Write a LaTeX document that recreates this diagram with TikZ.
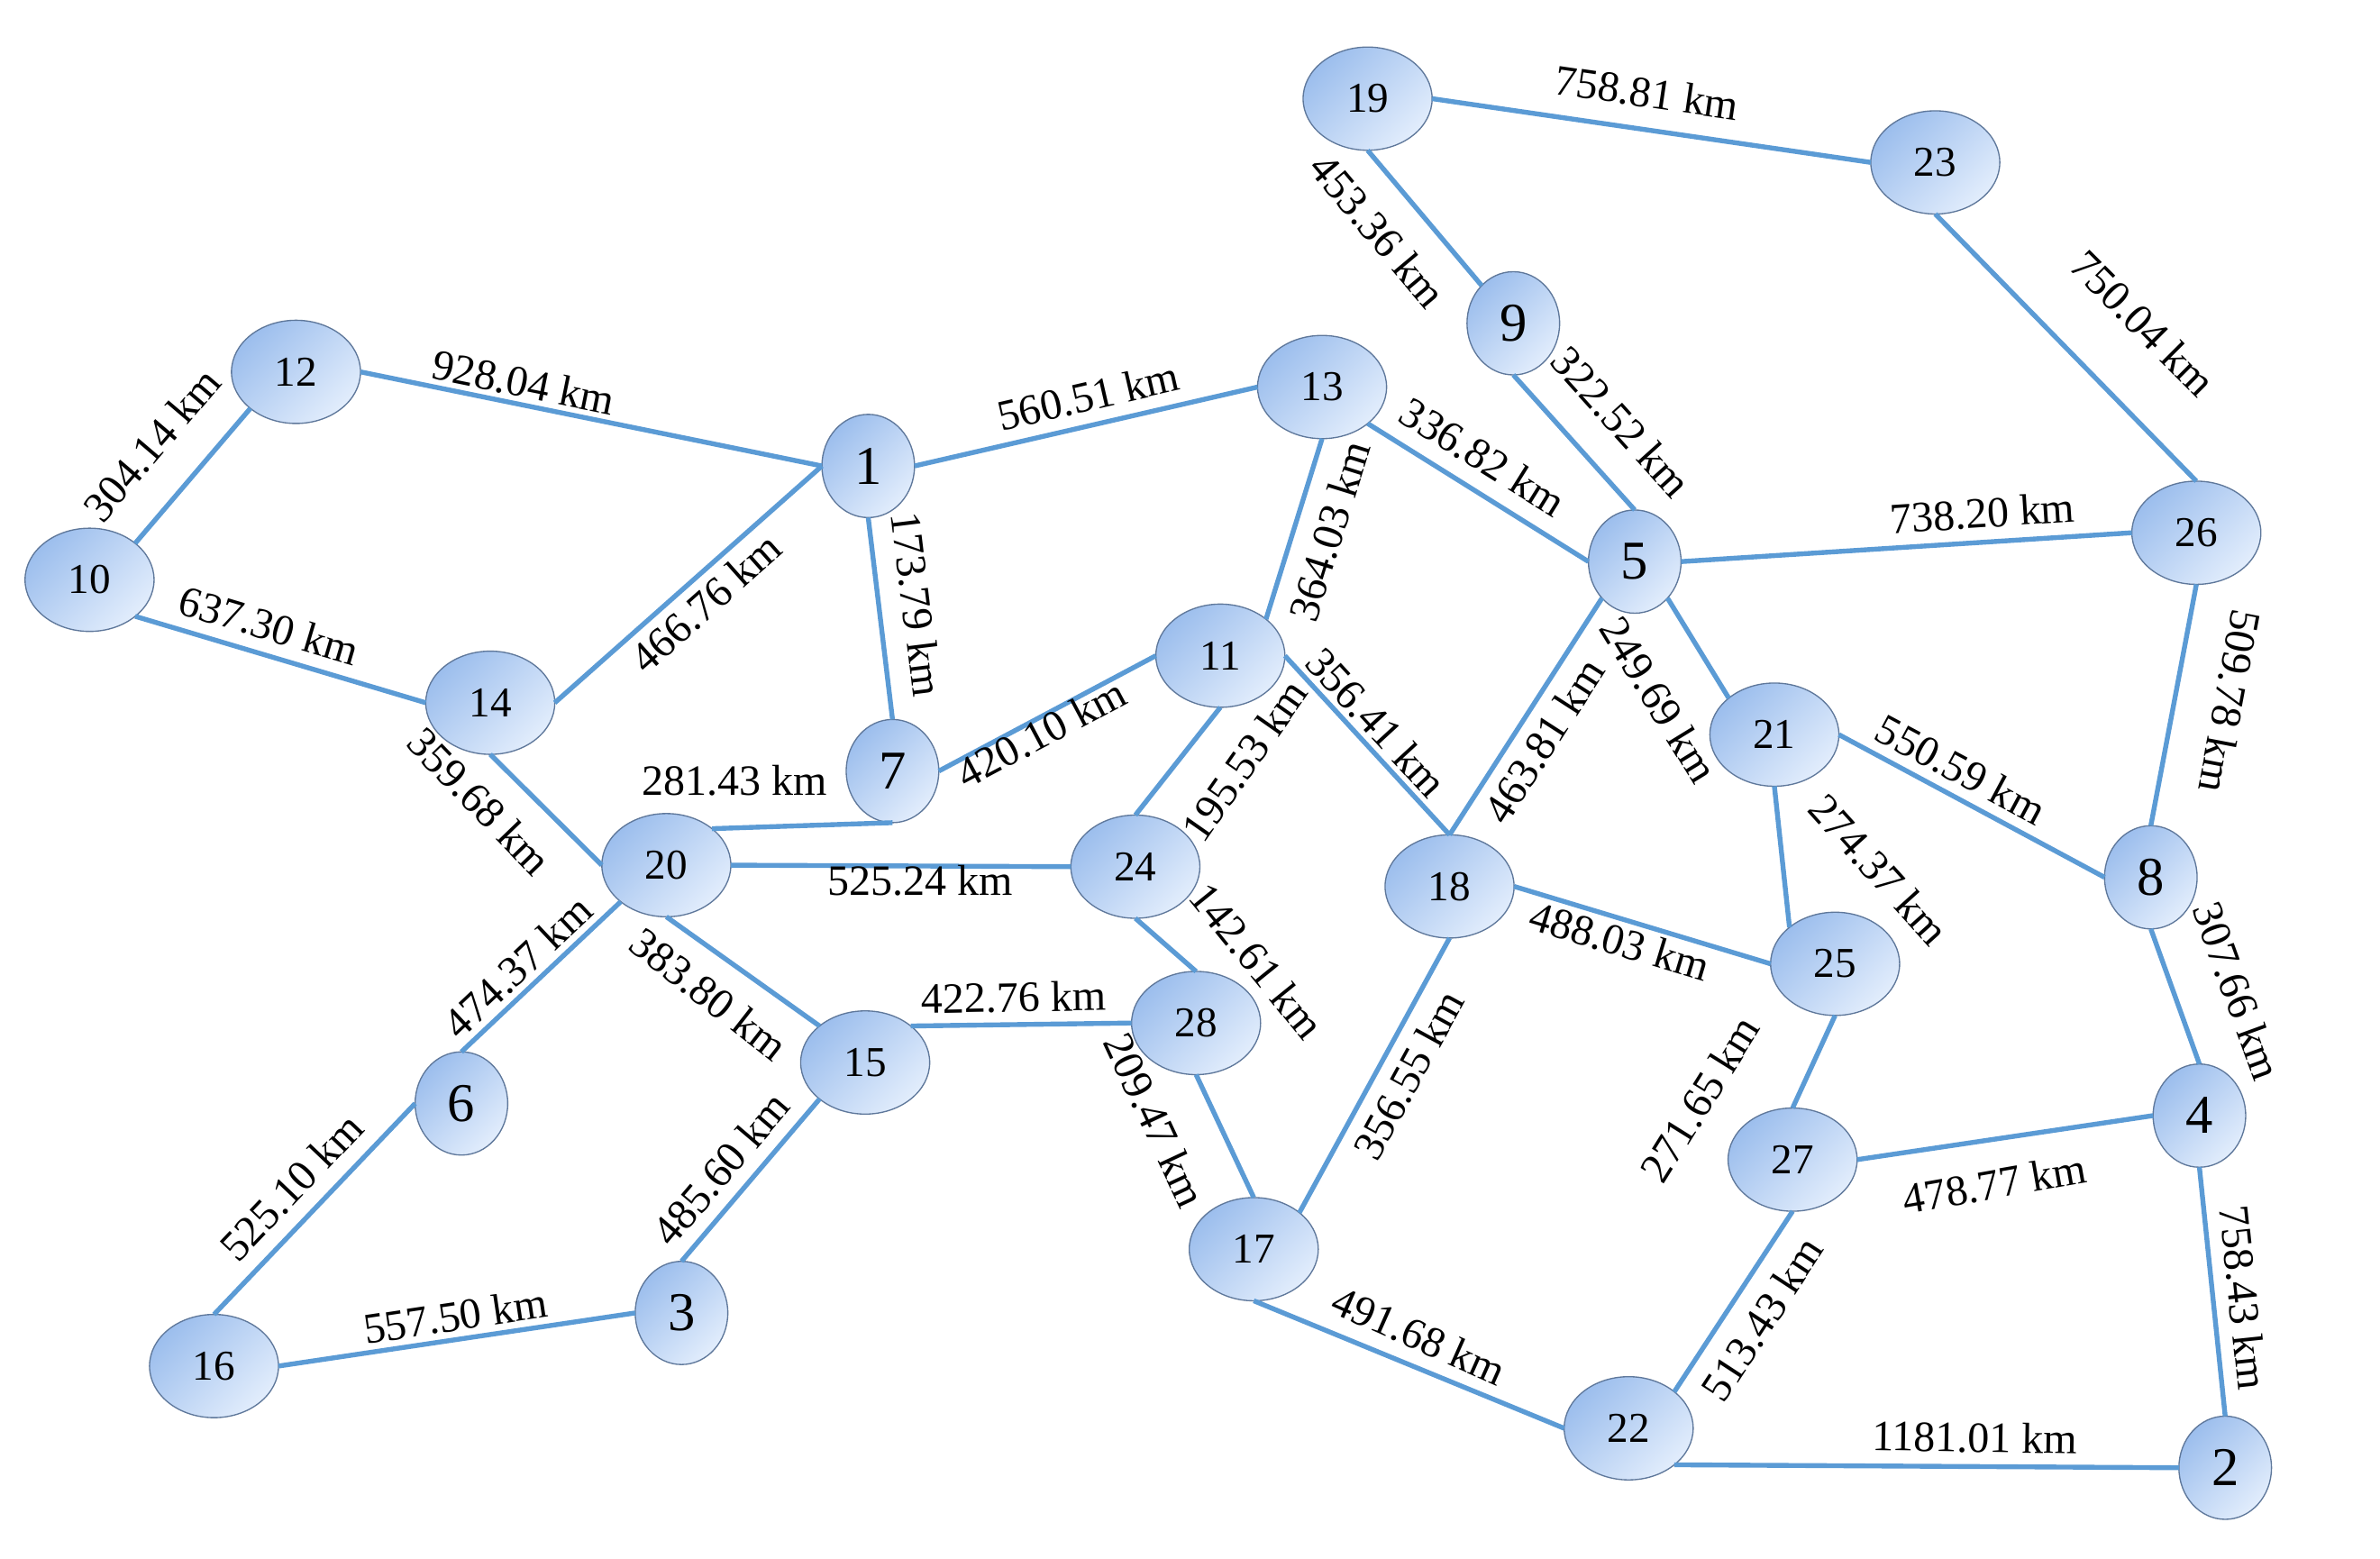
\documentclass[tikz,border=0pt]{standalone}
\usepackage{fontspec}
\setmainfont{Liberation Serif}
\usetikzlibrary{shapes.geometric}
\definecolor{edgeblue}{RGB}{91,155,213}
\definecolor{ndborder}{RGB}{95,120,155}
\definecolor{ndA}{RGB}{156,190,237}
\definecolor{ndB}{RGB}{226,237,252}
\tikzset{
  nd/.style={ellipse, draw=ndborder, line width=0.8pt, top color=ndA, bottom color=ndB, shading angle=45,
    inner sep=0pt, outer sep=0pt, minimum width=85pt, minimum height=68pt, font=\fontsize{28}{28}\selectfont},
  nds/.style={nd, minimum width=61pt, font=\fontsize{36}{36}\selectfont},
  ln/.style={draw=edgeblue, line width=3.2pt},
  lab/.style={font=\fontsize{28.5}{29}\selectfont, inner sep=0pt}
}
\begin{document}
\begin{tikzpicture}[x=1pt,y=-1pt]
\useasboundingbox[fill=white] (0,0) rectangle (1568,1027);
% nodes
\node[nd]  (n19) at (901,65)   {19};
\node[nd]  (n23) at (1275,107) {23};
\node[nds] (n9)  at (997,213)  {9};
\node[nd]  (n12) at (195,245)  {12};
\node[nd]  (n13) at (871,255)  {13};
\node[nds] (n1)  at (572,307)  {1};
\node[nd]  (n10) at (59,382)   {10};
\node[nds] (n5)  at (1077,370) {5};
\node[nd]  (n26) at (1447,351) {26};
\node[nd]  (n14) at (323,463)  {14};
\node[nd]  (n11) at (804,432)  {11};
\node[nds] (n7)  at (588,508)  {7};
\node[nd]  (n21) at (1169,484) {21};
\node[nd]  (n20) at (439,570)  {20};
\node[nd]  (n24) at (748,571)  {24};
\node[nd]  (n18) at (955,584)  {18};
\node[nds] (n8)  at (1417,578) {8};
\node[nd]  (n25) at (1209,635) {25};
\node[nd]  (n28) at (788,674)  {28};
\node[nd]  (n15) at (570,700)  {15};
\node[nds] (n6)  at (304,727)  {6};
\node[nd]  (n27) at (1181,764) {27};
\node[nds] (n4)  at (1449,735) {4};
\node[nd]  (n17) at (826,823)  {17};
\node[nds] (n3)  at (449,865)  {3};
\node[nd]  (n16) at (141,900)  {16};
\node[nd]  (n22) at (1073,941) {22};
\node[nds] (n2)  at (1466,967) {2};
% edges
\draw[ln] (n19.east) -- (n23.west);
\draw[ln] (n19.south) -- (n9.130);
\draw[ln] (n23.south) -- (n26.north);
\draw[ln] (n9.south) -- (n5.north);
\draw[ln] (n12.east) -- (n1.west);
\draw[ln] (n10.north east) -- (n12.south west);
\draw[ln] (n1.east) -- (n13.west);
\draw[ln] (n13.south east) -- (n5.west);
\draw[ln] (n14.east) -- (n1.west);
\draw[ln] (n1.south) -- (n7.north);
\draw[ln] (n10.south east) -- (n14.west);
\draw[ln] (n13.south) -- (n11.north east);
\draw[ln] (n5.east) -- (n26.west);
\draw[ln] (n26.south) -- (n8.north);
\draw[ln] (n14.south) -- (n20.west);
\draw[ln] (n5.south west) -- (n18.north);
\draw[ln] (n5.south east) -- (n21.north west);
\draw[ln] (n7.east) -- (n11.west);
\draw[ln] (n20.north east) -- (n7.south);
\draw[ln] (n11.south) -- (n24.north);
\draw[ln] (n11.east) -- (n18.north);
\draw[ln] (n21.east) -- (n8.west);
\draw[ln] (n20.east) -- (n24.west);
\draw[ln] (n24.south) -- (n28.north);
\draw[ln] (n18.east) -- (n25.west);
\draw[ln] (n21.south) -- (n25.north west);
\draw[ln] (n20.south west) -- (n6.north);
\draw[ln] (n20.south) -- (n15.north west);
\draw[ln] (n15.north east) -- (n28.west);
\draw[ln] (n8.south) -- (n4.north);
\draw[ln] (n28.south) -- (n17.north);
\draw[ln] (n18.south) -- (n17.north east);
\draw[ln] (n25.south) -- (n27.north);
\draw[ln] (n15.south west) -- (n3.north);
\draw[ln] (n6.west) -- (n16.north);
\draw[ln] (n27.east) -- (n4.west);
\draw[ln] (n16.east) -- (n3.west);
\draw[ln] (n17.south) -- (n22.west);
\draw[ln] (n22.north east) -- (n27.south);
\draw[ln] (n4.south) -- (n2.north);
\draw[ln] (n22.south east) -- (n2.west);
% labels
\node[lab, rotate=-8.3]  (l1)  at (1085,61)  {758.81 km};
\node[lab, rotate=-50]   (l2)  at (908,152)  {453.36 km};
\node[lab, rotate=-45]   (l3)  at (1412,213) {750.04 km};
\node[lab, rotate=-48]   (l4)  at (1068,278) {322.52 km};
\node[lab, rotate=-11.5] (l5)  at (345,252)  {928.04 km};
\node[lab, rotate=49.5]  (l6)  at (100,293)  {304.14 km};
\node[lab, rotate=13]    (l7)  at (717,261)  {560.51 km};
\node[lab, rotate=-32]   (l8)  at (977,301)  {336.82 km};
\node[lab, rotate=41.6]  (l9)  at (465,397)  {466.76 km};
\node[lab, rotate=-83]   (l10) at (604,398)  {173.79 km};
\node[lab, rotate=-16.6] (l11) at (177,412)  {637.30 km};
\node[lab, rotate=72.7]  (l12) at (876,350)  {364.03 km};
\node[lab, rotate=3.7]   (l13) at (1306,338) {738.20 km};
\node[lab, rotate=-100.7](l14) at (1469,462) {509.78 km};
\node[lab, rotate=-46]   (l15) at (316,528)  {359.68 km};
\node[lab, rotate=57.2]  (l16) at (1017,488) {463.81 km};
\node[lab, rotate=-58.5] (l17) at (1093,461) {249.69 km};
\node[lab, rotate=28]    (l18) at (686,483)  {420.10 km};
\node[lab]               (l19) at (484,514)  {281.43 km};
\node[lab, rotate=55]    (l20) at (820,501)  {195.53 km};
\node[lab, rotate=-47.4] (l21) at (907,476)  {356.41 km};
\node[lab, rotate=-28.2] (l22) at (1292,507) {550.59 km};
\node[lab]               (l23) at (606,580)  {525.24 km};
\node[lab, rotate=-51]   (l24) at (828,633)  {142.61 km};
\node[lab, rotate=-16.8] (l25) at (1067,620) {488.03 km};
\node[lab, rotate=-48]   (l26) at (1238,573) {274.37 km};
\node[lab, rotate=43.3]  (l27) at (341,637)  {474.37 km};
\node[lab, rotate=-38]   (l28) at (467,655)  {383.80 km};
\node[lab, rotate=1]     (l29) at (668,657)  {422.76 km};
\node[lab, rotate=-70]   (l30) at (1474,653) {307.66 km};
\node[lab, rotate=-65]   (l31) at (761,738)  {209.47 km};
\node[lab, rotate=61.3]  (l32) at (928,708)  {356.55 km};
\node[lab, rotate=58]    (l33) at (1120,724) {271.65 km};
\node[lab, rotate=49.6]  (l34) at (475,770)  {485.60 km};
\node[lab, rotate=46.4]  (l35) at (192,782)  {525.10 km};
\node[lab, rotate=10]    (l36) at (1314,780) {478.77 km};
\node[lab, rotate=8.5]   (l37) at (300,867)  {557.50 km};
\node[lab, rotate=-24]   (l38) at (935,880)  {491.68 km};
\node[lab, rotate=56.8]  (l39) at (1161,869) {513.43 km};
\node[lab, rotate=-84]   (l40) at (1478,855) {758.43 km};
\node[lab, rotate=-1]    (l41) at (1301,947) {1181.01 km};
\end{tikzpicture}
\end{document}
